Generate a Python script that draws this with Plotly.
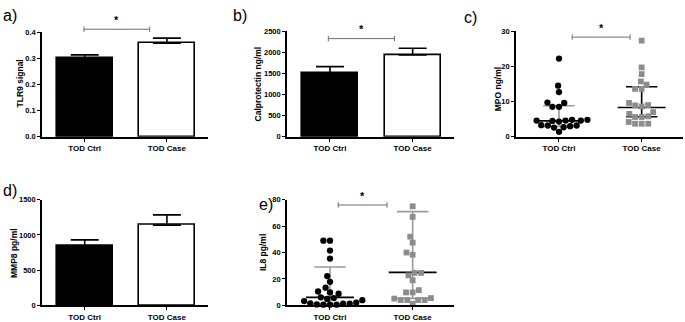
import math
import plotly.graph_objects as go

W, H = 685, 322
FONT = "Arial, Liberation Sans, sans-serif"

categories = ["TOD Ctrl", "TOD Case"]

# a) TLR9 signal (mean, SEM)
tlr9_mean = [0.300, 0.358]
tlr9_sem = [0.013, 0.019]
# b) Calprotectin ng/ml
calpro_mean = [1515, 1935]
calpro_sem = [145, 160]
# d) MMP8 pg/ml
mmp8_mean = [845, 1140]
mmp8_sem = [85, 145]

# c) MPO ng/ml individual values
mpo_ctrl = [22.2, 14.5, 12.7, 9.6, 9.7, 8.5, 8.5, 4.3, 4.6, 4.8, 4.6, 4.8, 4.6, 4.5,
            3.3, 3.2, 3.0, 3.2, 2.7, 2.6, 1.4]
mpo_case = [27.3, 19.7, 17.8, 15.7, 14.8, 13.6, 13.6, 9.6, 9.0, 8.9, 8.6, 7.0, 6.5,
            5.8, 5.6, 5.6, 4.2, 3.7, 3.7, 3.7]
mpo_median = [4.5, 8.3]
mpo_q1 = [2.9, 5.7]
mpo_q3 = [8.8, 14.2]

# e) IL8 pg/ml individual values
il8_ctrl = [49, 49, 41.5, 35.4, 22.2, 17.8, 13.4, 10.5, 9.8, 8.8, 6.1, 5.5, 4.9, 3.9,
            3.2, 2.0, 1.5, 1.2, 1.2, 0.7, 0.5, 0.5, 0.5]
il8_case = [75, 67, 52, 47.5, 40, 38.3, 24.6, 24.6, 22.7, 19, 11.5, 9.8, 9.8, 5.5,
            5.1, 4, 4, 4, 4, 1.2]
il8_median = [6.0, 25.0]
il8_q1 = [1.0, 5.3]
il8_q3 = [29, 71]

# significance brackets: (x start, x end, height)
sig_a = (-0.01, 0.79, 0.411)
sig_b = (-0.02, 0.78, 2323)
sig_c = (0.16, 0.86, 28.3)
sig_e = (0.10, 0.69, 76.0)

# ---------------- layout geometry (pixels) ----------------
panels = {
    "a": dict(ax=1, xpx=(42, 208), ypx=(137, 29), yr=(0, 0.4), dtick=0.1, fmt=".1f",
              ytitle="TLR9 signal", ytx=20, yty=82, lab="a)", labx=1, laby=12),
    "b": dict(ax=2, xpx=(287, 454), ypx=(137, 28), yr=(0, 2500), dtick=500, fmt="d",
              ytitle="Calprotectin ng/ml", ytx=258, yty=83, lab="b)", labx=231, laby=12),
    "c": dict(ax=3, xpx=(516, 683), ypx=(137, 28), yr=(0, 30), dtick=10, fmt="d",
              ytitle="MPO ng/ml", ytx=498, yty=88, lab="c)", labx=462, laby=14),
    "d": dict(ax=4, xpx=(42, 208), ypx=(311, 202), yr=(0, 1500), dtick=500, fmt="d",
              ytitle="MMP8 pg/ml", ytx=14, yty=257, lab="d)", labx=1, laby=192),
    "e": dict(ax=5, xpx=(287, 454), ypx=(311, 202), yr=(0, 80), dtick=20, fmt="d",
              ytitle="IL8 pg/ml", ytx=263, yty=257, lab="e)", labx=257, laby=207),
}
XR = (-0.52, 1.5)

fig = go.Figure()


def ids(p):
    n = panels[p]["ax"]
    return ("x" if n == 1 else f"x{n}"), ("y" if n == 1 else f"y{n}")


def swarm(vals, ppu_x, ppu_y, d):
    ys = [v * ppu_y for v in vals]
    n = len(vals)
    xs = [0.0] * n
    order = sorted(range(n), key=lambda i: ys[i])
    placed = []
    for i in order:
        cands = [0.0]
        for j in placed:
            dy = ys[i] - ys[j]
            if abs(dy) < d:
                dx = math.sqrt(d * d - dy * dy)
                cands += [xs[j] + dx, xs[j] - dx]
        cands.sort(key=lambda c: (round(abs(c), 6), c))
        for c in cands:
            if all((c - xs[j]) ** 2 + (ys[i] - ys[j]) ** 2 >= d * d - 1e-6 for j in placed):
                xs[i] = c
                break
        placed.append(i)
    return [x / ppu_x for x in xs]


def add_bars(p, means, sems):
    xa, ya = ids(p)
    fig.add_trace(go.Bar(
        x=[0, 1], y=means, width=0.68, xaxis=xa, yaxis=ya,
        marker=dict(color=["black", "white"], line=dict(color="black", width=1.6)),
        error_y=dict(type="data", array=sems, arrayminus=[0, 0], symmetric=False,
                     color="black", thickness=1.6, width=14),
        showlegend=False, hoverinfo="skip"))


def add_scatter(p, ctrl, case, med, q1, q3, wcol_ctrl, wcol_case):
    xa, ya = ids(p)
    P = panels[p]
    ppu_x = (P["xpx"][1] - P["xpx"][0]) / (XR[1] - XR[0])
    ppu_y = (P["ypx"][0] - P["ypx"][1]) / (P["yr"][1] - P["yr"][0])
    wcols = [wcol_ctrl, wcol_case]
    for k in range(2):
        c = k
        fig.add_trace(go.Scatter(x=[c, c], y=[q1[k], q3[k]], mode="lines", xaxis=xa, yaxis=ya,
                                 line=dict(color=wcols[k], width=1.6), showlegend=False,
                                 hoverinfo="skip"))
        for v in (q1[k], q3[k]):
            fig.add_trace(go.Scatter(x=[c - 0.19, c + 0.19], y=[v, v], mode="lines",
                                     xaxis=xa, yaxis=ya, line=dict(color=wcols[k], width=1.6),
                                     showlegend=False, hoverinfo="skip"))
        fig.add_trace(go.Scatter(x=[c - 0.29, c + 0.29], y=[med[k], med[k]], mode="lines",
                                 xaxis=xa, yaxis=ya, line=dict(color="black", width=1.6),
                                 showlegend=False, hoverinfo="skip"))
    offs = swarm(ctrl, ppu_x, ppu_y, 6.6)
    fig.add_trace(go.Scatter(x=[0 + o for o in offs], y=ctrl, mode="markers", xaxis=xa, yaxis=ya,
                             marker=dict(symbol="circle", size=6.3, color="black"),
                             showlegend=False, hoverinfo="skip", cliponaxis=False))
    offs = swarm(case, ppu_x, ppu_y, 6.6)
    fig.add_trace(go.Scatter(x=[1 + o for o in offs], y=case, mode="markers", xaxis=xa, yaxis=ya,
                             marker=dict(symbol="square", size=5.8, color="#8c8c8c"),
                             showlegend=False, hoverinfo="skip", cliponaxis=False))


add_bars("a", tlr9_mean, tlr9_sem)
add_bars("b", calpro_mean, calpro_sem)
add_bars("d", mmp8_mean, mmp8_sem)
add_scatter("c", mpo_ctrl, mpo_case, mpo_median, mpo_q1, mpo_q3, "#9a9a9a", "black")
add_scatter("e", il8_ctrl, il8_case, il8_median, il8_q1, il8_q3, "#9a9a9a", "#9a9a9a")

shapes = []
annotations = []
layout_axes = {}
for p, P in panels.items():
    n = P["ax"]
    xk = "xaxis" if n == 1 else f"xaxis{n}"
    yk = "yaxis" if n == 1 else f"yaxis{n}"
    xa, ya = ids(p)
    xd = [P["xpx"][0] / W, P["xpx"][1] / W]
    yd = [1 - P["ypx"][0] / H, 1 - P["ypx"][1] / H]
    layout_axes[xk] = dict(domain=xd, range=list(XR), anchor=ya, tickmode="array",
                           tickvals=[0, 1], ticktext=categories, showline=True,
                           linecolor="black", linewidth=1.6, ticks="outside", ticklen=3,
                           tickwidth=1.2, tickcolor="black", showgrid=False, zeroline=False,
                           ticklabelstandoff=0,
                           tickfont=dict(family=FONT, size=8, color="black", weight="bold"),
                           fixedrange=True)
    layout_axes[yk] = dict(domain=yd, range=list(P["yr"]), anchor=xa, dtick=P["dtick"],
                           tickformat=P["fmt"], showline=True, linecolor="black",
                           linewidth=1.6, ticks="outside", ticklen=3, tickwidth=1.2,
                           tickcolor="black", showgrid=False, zeroline=False,
                           tickfont=dict(family=FONT, size=7.5, color="black", weight="bold"),
                           fixedrange=True)
    annotations.append(dict(xref="paper", yref="paper", x=P["ytx"] / W, y=1 - P["yty"] / H,
                            text=P["ytitle"], textangle=-90, showarrow=False,
                            xanchor="center", yanchor="middle",
                            font=dict(family=FONT, size=8.5, color="black", weight="bold")))
    annotations.append(dict(xref="paper", yref="paper", x=P["labx"] / W, y=1 - P["laby"] / H,
                            text=P["lab"], showarrow=False, xanchor="left", yanchor="middle",
                            font=dict(family=FONT, size=16, color="black")))

for p, sig in (("a", sig_a), ("b", sig_b), ("c", sig_c), ("e", sig_e)):
    P = panels[p]
    xa, ya = ids(p)
    yd0, yd1 = 1 - P["ypx"][0] / H, 1 - P["ypx"][1] / H
    yb = yd0 + (sig[2] - P["yr"][0]) / (P["yr"][1] - P["yr"][0]) * (yd1 - yd0)
    tick = 2.8 / H
    line = dict(color="#6e6e6e", width=1)
    shapes.append(dict(type="line", xref=xa, yref="paper", x0=sig[0], x1=sig[1], y0=yb, y1=yb, line=line))
    for xx in (sig[0], sig[1]):
        shapes.append(dict(type="line", xref=xa, yref="paper", x0=xx, x1=xx,
                           y0=yb - tick, y1=yb + tick, line=line))
    annotations.append(dict(xref=xa, yref="paper", x=(sig[0] + sig[1]) / 2, y=yb + 1.5 / H,
                            text="*", showarrow=False, xanchor="center", yanchor="bottom",
                            font=dict(family=FONT, size=11, color="black", weight="bold")))

fig.update_layout(
    width=W, height=H, margin=dict(l=0, r=0, t=0, b=0),
    paper_bgcolor="white", plot_bgcolor="white", showlegend=False,
    bargap=0, shapes=shapes, annotations=annotations, **layout_axes)

fig.write_html("out.html",
               config={"displayModeBar": False},
               post_script=["document.body.style.margin='0';document.body.style.padding='0';"])
